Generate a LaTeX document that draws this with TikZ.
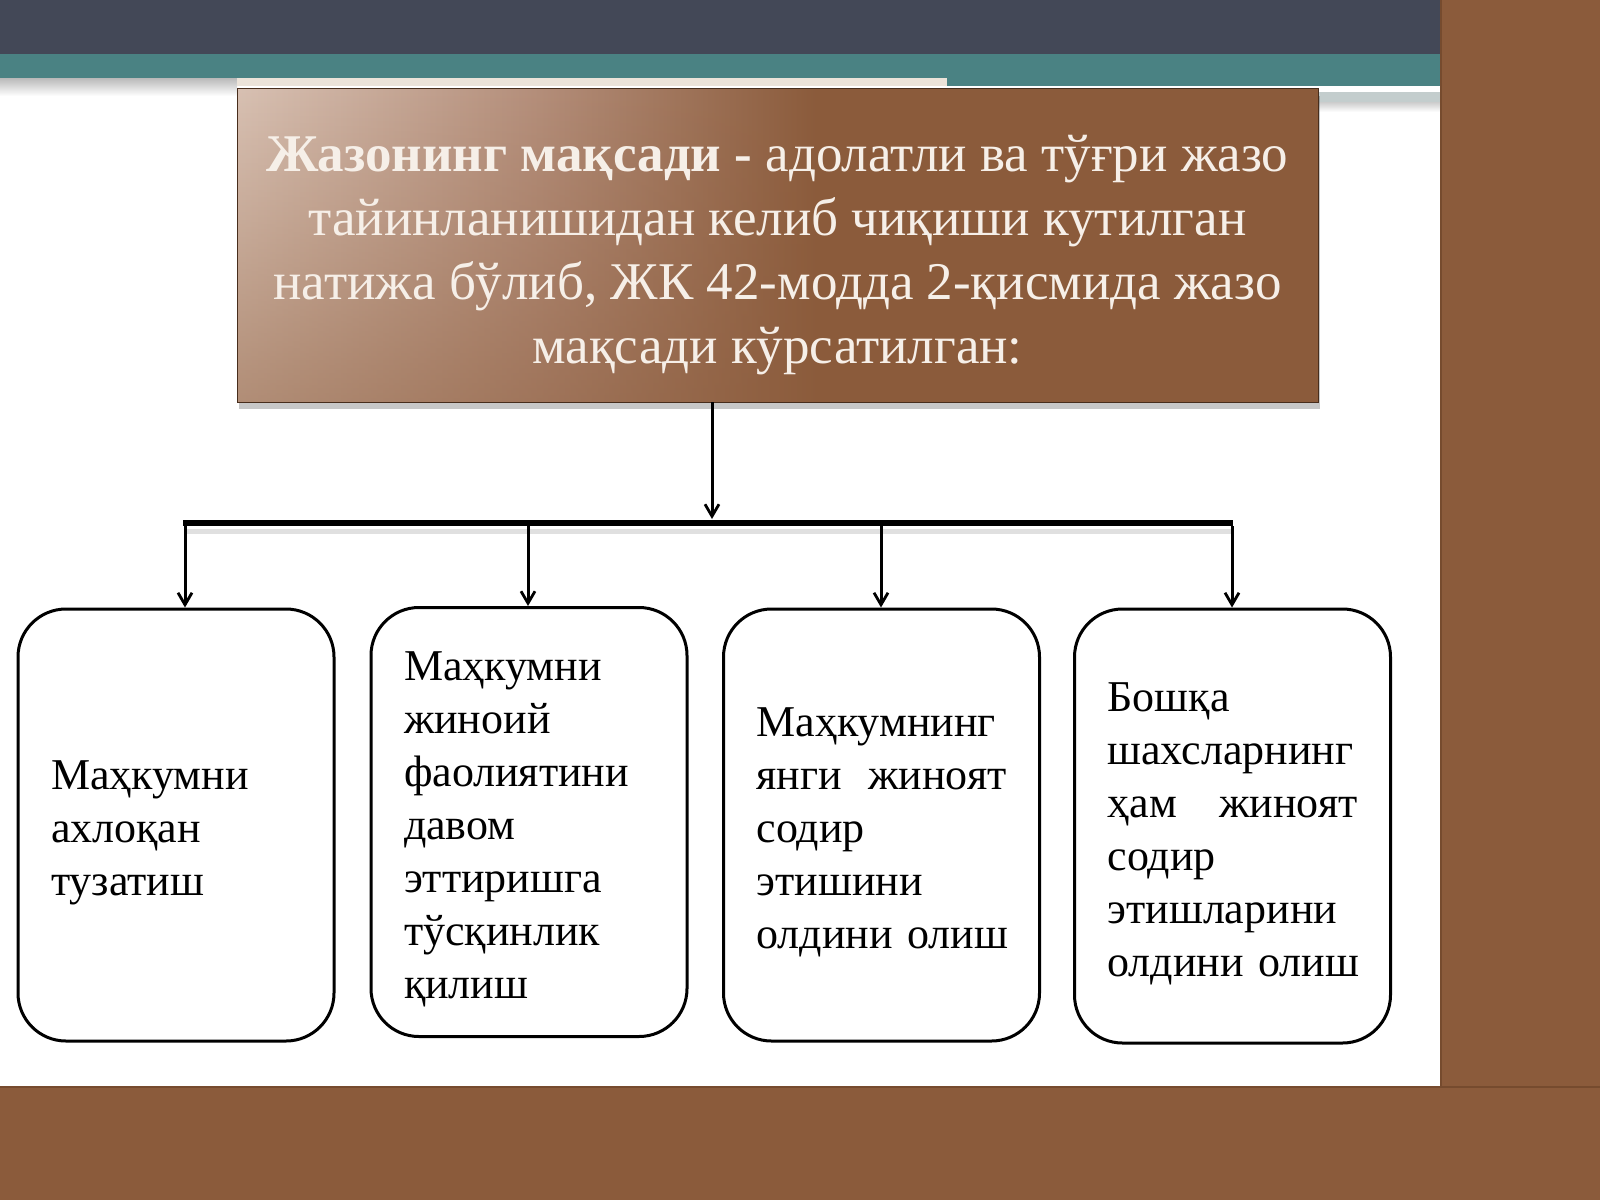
\documentclass[tikz,border=0pt]{standalone}
\usepackage{fontspec}
\setmainfont{Liberation Serif}
\usetikzlibrary{arrows.meta,shadows,fadings}
\definecolor{slate}{HTML}{434857}
\definecolor{teal1}{HTML}{4A8283}
\definecolor{brownA}{HTML}{8B5B3B}
\definecolor{brownD}{HTML}{764B2E}
\definecolor{boxL}{HTML}{D8C1B3}
\definecolor{boxM}{HTML}{B48E7A}
\definecolor{paleT}{HTML}{F6EFE8}
\definecolor{beige}{HTML}{EBE3D9}
\pgfdeclarehorizontalshading{goalshade}{100bp}{%
  color(0bp)=(boxL); color(25bp)=(boxL); color(39bp)=(boxM);
  color(52bp)=(brownA); color(100bp)=(brownA)}
\newcommand{\justline}[2]{\leavevmode\hbox to 250pt{#1\hfill #2}}
\newcommand{\boxstrut}{\rule{0pt}{44pt}}
\newcommand{\goalstrut}{\rule{0pt}{56pt}}
\tikzset{
  goalbox/.style={draw=brownD!60!black, line width=0.8pt,
    minimum width=1081pt, minimum height=314pt, inner sep=0pt,
    align=center, text=paleT, font=\fontsize{53}{64}\selectfont},
  aimbox/.style={draw, line width=3pt, rounded corners=48pt, fill=white,
    minimum width=316pt, minimum height=432pt, text width=250pt,
    inner xsep=33pt, inner ysep=0pt, align=left,
    font=\fontsize{44}{53}\selectfont},
  arr/.style={line width=3pt, -{Straight Barb[length=12pt,width=14pt,line width=2.8pt]}},
  hbar/.style={line width=6pt},
}
\begin{document}
\begin{tikzpicture}[x=1pt,y=-1pt]
\useasboundingbox (0,0) rectangle (1600,1200);
\fill[white] (0,0) rectangle (1600,1200);
% top decoration
\fill[slate] (0,0) rectangle (1441,54);
\fill[teal1] (0,54) rectangle (1441,78);
\fill[teal1] (947,78) rectangle (1441,86);
\shade[top color=gray!55, bottom color=white] (0,78) rectangle (237,96);
\fill[beige] (237,78) rectangle (947,86);
\fill[gray!60!teal1!40] (1319,92) rectangle (1441,102);
\shade[top color=gray!40, bottom color=white] (1319,102) rectangle (1441,112);
% right and bottom frame
\fill[brownA] (1441,0) rectangle (1600,1087);
\fill[brownA] (0,1087) rectangle (1600,1200);
\draw[brownD, line width=1.5pt] (1441,0) -- (1441,1087) -- (1600,1087);
\draw[brownD, line width=1.5pt] (0,1087) -- (1441,1087);
% main box background (shadow, gradient)
\fill[black, opacity=0.22] (239,96) rectangle (1320,409);
\shade[shading=goalshade] (237,88) rectangle (1318,402);
\fill[brownA, path fading=north, fill opacity=0.5] (237,88) rectangle (1318,402);
\node[goalbox] (goal) at (777.5,245)
  {\goalstrut\textbf{Жазонинг мақсади -} адолатли ва тўғри жазо\\
   тайинланишидан келиб чиқиши кутилган\\
   натижа бўлиб, ЖК 42-модда 2-қисмида жазо\\
   мақсади кўрсатилган:};
% bar
\coordinate (barL) at (183,523);
\coordinate (barR) at (1233,523);
\coordinate (hub) at (712,519);
\coordinate (b1) at (185,526);
\coordinate (b2) at (528,526);
\coordinate (b3) at (881,526);
\coordinate (b4) at (1232,526);
\draw[line width=5pt, black!12] (185,531) -- (1233,531);
\draw[hbar] (barL) -- (barR);
% boxes
\node[aimbox] (aim1) at (176,825)
  {\boxstrut Маҳкумни\\ахлоқан\\тузатиш};
\node[aimbox, minimum height=429pt] (aim2) at (529,822)
  {\boxstrut Маҳкумни\\жиноий\\фаолиятини\\давом\\эттиришга\\тўсқинлик\\қилиш};
\node[aimbox] (aim3) at (881.5,825)
  {\boxstrut Маҳкумнинг\\\justline{янги}{жиноят}\\содир\\этишини\\олдини~олиш};
\node[aimbox, minimum height=434pt] (aim4) at (1232.5,826)
  {\boxstrut Бошқа\\шахсларнинг\\\justline{ҳам}{жиноят}\\содир\\этишларини\\олдини~олиш};
% connectors
\draw[arr] (goal.south -| hub) -- (hub);
\draw[arr] (b1) -- (b1 |- aim1.north);
\draw[arr] (b2) -- (b2 |- aim2.north);
\draw[arr] (b3) -- (b3 |- aim3.north);
\draw[arr] (b4) -- (b4 |- aim4.north);
\end{tikzpicture}
\end{document}
